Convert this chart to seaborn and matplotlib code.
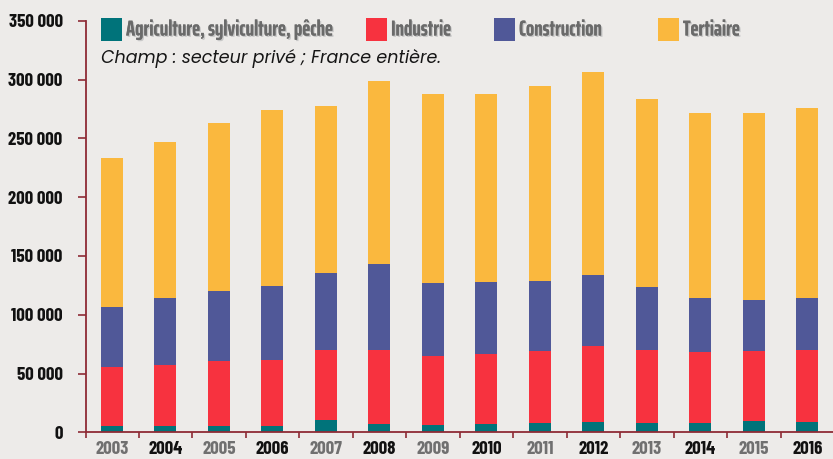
import numpy as np
import pandas as pd
import matplotlib
matplotlib.use("Agg")
import matplotlib.pyplot as plt
import matplotlib.patheffects as pe
from matplotlib.patches import Rectangle
import seaborn as sns

years = ["2003", "2004", "2005", "2006", "2007", "2008", "2009",
         "2010", "2011", "2012", "2013", "2014", "2015", "2016"]
agriculture = [5600, 5600, 5600, 5600, 10700, 7300, 6200, 7300, 8200, 9000, 8200, 8200, 9900, 9000]
industrie = [50000, 51900, 55300, 56200, 59600, 63000, 59000, 59600, 61000, 64700, 62100, 60400, 59300, 61300]
construction = [51000, 57000, 59600, 63000, 65500, 73200, 61800, 61300, 59800, 60100, 53300, 45900, 43600, 44200]
tertiaire = [126800, 132500, 142700, 149400, 141800, 155700, 160800, 159600, 165600, 172700, 160000, 157200, 158900, 161400]

series_names = ["Agriculture, sylviculture, pêche", "Industrie", "Construction", "Tertiaire"]
series_colors = ["#00737A", "#F7323F", "#505898", "#FAB83E"]
yticks = [0, 50000, 100000, 150000, 200000, 250000, 300000, 350000]
subtitle = "Champ : secteur privé ; France entière."

BG = "#EDEBE9"
SPINE = "#8E2B35"
NARROW = ["Barlow Condensed", "DejaVu Sans"]
LEGFONT = ["Saira ExtraCondensed", "Barlow Condensed", "DejaVu Sans"]
ITAL = ["Poppins", "DejaVu Sans"]

sns.set_theme(style="white")
plt.rcParams["font.family"] = NARROW

df = pd.DataFrame({"year": years, "a": agriculture, "i": industrie,
                   "c": construction, "t": tertiaire})
cum = df[["a", "i", "c", "t"]].cumsum(axis=1)

W, H = 833, 459
fig = plt.figure(figsize=(W / 100, H / 100), dpi=100, facecolor=BG)
ax = fig.add_axes([86.3 / W, (H - 432.3) / H, 1 - 86.3 / W, (432.3 - 20.9) / H])
ax.set_facecolor(BG)

# stacked bars: draw cumulative totals from top layer to bottom layer
for col, color in zip(["t", "c", "i", "a"], series_colors[::-1]):
    sns.barplot(x=df["year"], y=cum[col], order=years, color=color, saturation=1,
                width=0.41, errorbar=None, linewidth=0, ax=ax)

ax.set_xlim(-0.48, 13.48)
ax.set_ylim(0, 350000)
ax.set_xlabel("")
ax.set_ylabel("")

for s in ["top", "right"]:
    ax.spines[s].set_visible(False)
for s in ["left", "bottom"]:
    ax.spines[s].set_color(SPINE)
    ax.spines[s].set_linewidth(1.3)

ax.set_yticks(yticks)
ax.set_yticklabels([f"{v:,}".replace(",", " ") for v in yticks],
                   fontsize=13.5, fontweight="bold", color="#111111")
ax.tick_params(axis="y", which="major", direction="out", length=6, width=1.2,
               color=SPINE, pad=11, left=True)

ax.set_xticks(range(len(years)))
ax.set_xticklabels(years, fontsize=13.5, fontweight="bold")
for i, lab in enumerate(ax.get_xticklabels()):
    lab.set_color("#707070" if i % 2 == 0 else "#111111")
ax.tick_params(axis="x", which="major", length=0, pad=6)
ax.set_xticks([-0.48] + [i + 0.5 for i in range(13)], minor=True)
ax.tick_params(axis="x", which="minor", direction="out", length=4, width=1.2,
               color=SPINE, bottom=True)
ax.grid(False)

# legend
legend_x = [101, 366, 494, 658]
shadow = [pe.withSimplePatchShadow(offset=(1, -1), shadow_rgbFace="#c8c8c8", alpha=1.0),
          pe.Normal()]
for x, name, color in zip(legend_x, series_names, series_colors):
    fig.patches.append(Rectangle((x / W, (H - 40.7) / H), 21 / W, 22.4 / H,
                                 transform=fig.transFigure, facecolor=color,
                                 edgecolor="none"))
    t = fig.text((x + 25) / W, (H - 29.5) / H, name, fontsize=15.5, fontweight="bold",
                 color="#6A6A6A", va="center", ha="left", family=LEGFONT)
    t.set_path_effects(shadow)

fig.text(101 / W, (H - 58.5) / H, subtitle, fontsize=12.6, style="italic",
         color="#151515", va="center", ha="left", family=ITAL)

fig.savefig("out.png", dpi=100, facecolor=BG)
